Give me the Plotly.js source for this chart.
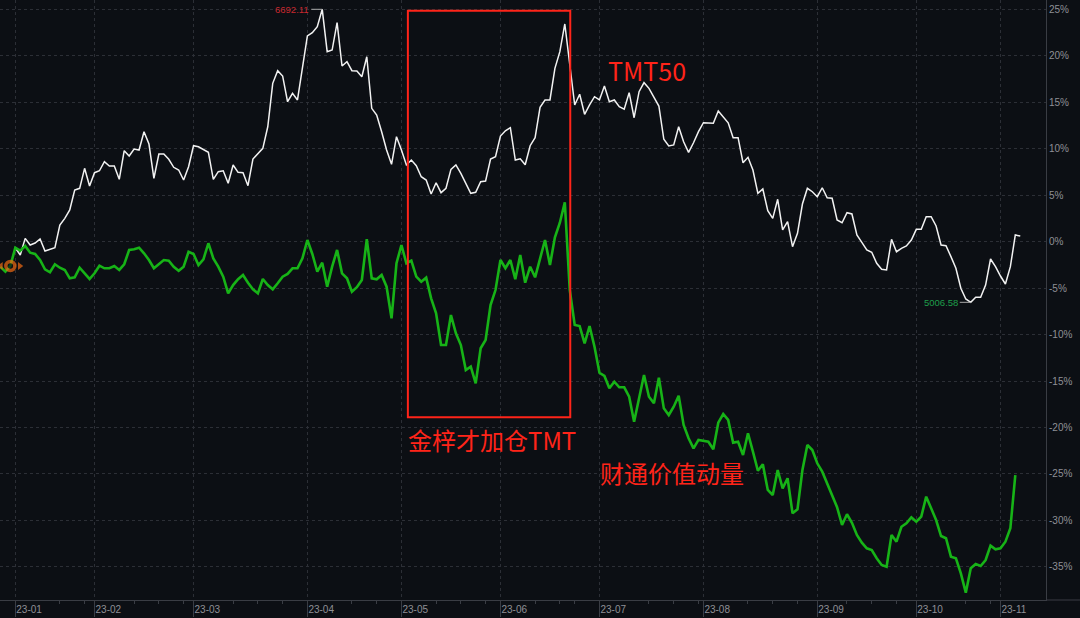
<!DOCTYPE html>
<html><head><meta charset="utf-8">
<script src="https://cdn.plot.ly/plotly-3.0.1.min.js"></script>
<style>html,body{margin:0;padding:0;background:#0c0f14;}#chart{width:1080px;height:618px;}</style>
</head><body><div id="chart"></div>
<script>
// trading-day index: 0 = 2023-01-03
const monthTickIdx = [0,16,36,59,78,98,118,139,162,182,199];
const monthTickLabels = ['23-01','23-02','23-03','23-04','23-05','23-06','23-07','23-08','23-09','23-10','23-11'];
const weekTickIdx = [9,14,24,29,34,44,49,54,68,73,85,90,95,105,110,113,128,133,138,148,153,158,168,173,178,192,197];
const yTickVals = [25,20,15,10,5,0,-5,-10,-15,-20,-25,-30,-35];
const yTickLabels = ['25%','20%','15%','10%','5%','0%','-5%','-10%','-15%','-20%','-25%','-30%','-35%'];

// TMT50 cumulative return (%), starts at index 0
const tmt50Start = 0;
const tmt50 = [-0.67,-1.45,0.34,-0.38,-0.16,0.27,-1.02,-0.84,-0.67,1.77,
2.49,3.39,5.54,5.72,7.87,5.97,7.40,7.61,8.58,8.12,
8.12,6.69,9.76,9.19,9.95,9.84,11.81,10.48,6.80,9.41,
9.41,8.84,7.98,7.69,6.61,8.04,10.30,10.19,9.91,9.59,
6.69,7.51,7.61,6.26,8.23,7.44,7.40,6.00,8.87,9.41,
10.02,12.34,17.01,18.37,17.80,15.03,15.94,15.22,18.44,22.10,
22.45,23.10,24.97,20.41,20.59,23.53,18.87,19.33,18.37,18.33,
17.72,19.87,14.32,13.60,11.81,9.84,8.30,11.27,9.84,8.23,
8.76,8.15,6.97,6.61,5.11,6.32,5.25,5.72,7.76,8.23,
7.33,6.26,5.18,5.29,6.43,6.51,8.87,9.12,11.34,11.91,
12.24,8.76,8.90,8.26,10.30,11.16,14.43,15.22,15.22,18.62,
20.41,23.39,19.33,14.68,15.83,13.68,14.68,15.57,15.22,16.72,
15.03,15.22,14.49,14.22,16.00,13.31,16.11,17.08,16.47,15.57,
14.57,10.99,10.27,10.38,12.34,10.73,9.59,10.62,11.81,12.77,
12.71,12.71,14.03,13.42,12.77,11.16,11.16,8.47,9.05,7.69,
5.18,5.65,3.31,2.49,4.54,1.24,2.13,-0.56,0.88,4.03,
5.72,5.35,4.82,5.78,4.71,4.65,2.31,2.02,3.10,2.96,
0.70,-0.09,-0.91,-1.16,-2.34,-2.99,-3.06,0.24,-1.10,-0.73,
-0.48,0.16,1.31,1.31,2.67,2.67,1.67,-0.38,-0.45,-1.63,
-2.88,-5.03,-6.18,-6.54,-6.00,-6.00,-4.68,-1.88,-2.71,-3.71,
-4.57,-2.71,0.70,0.59];

// 财通价值动量 cumulative return (%), starts at index -3
const valueMomStart = -3;
const valueMom = [-2.74,-3.25,-2.63,
-0.67,-0.99,-0.48,-1.20,-1.34,-1.99,-2.99,-3.31,-2.45,-2.82,
-3.06,-3.96,-3.85,-2.82,-3.42,-4.03,-3.42,-2.60,-2.88,-2.88,
-2.63,-3.06,-2.45,-0.91,-0.84,-0.67,-1.27,-1.99,-2.88,-2.45,
-1.99,-2.06,-2.71,-3.14,-2.71,-1.10,-1.34,-2.53,-1.91,-0.19,
-1.81,-2.71,-3.78,-5.57,-4.68,-4.06,-3.60,-4.43,-5.14,-5.57,
-4.03,-4.68,-5.14,-4.49,-3.78,-3.49,-2.88,-2.88,-1.81,0.16,
-1.34,-3.25,-2.28,-4.86,-2.71,-0.91,-3.42,-3.96,-5.40,-4.92,
-4.14,0.24,-3.96,-4.06,-3.60,-4.86,-8.26,-2.34,-0.38,-2.34,
-2.06,-3.78,-4.32,-3.89,-6.11,-7.72,-11.13,-11.13,-7.90,-9.87,
-11.13,-13.82,-13.46,-15.25,-11.48,-10.59,-6.83,-5.22,-1.99,-2.88,
-1.99,-4.06,-1.45,-4.43,-2.71,-3.85,-1.81,0.16,-2.53,0.45,
2.02,4.22,-5.22,-8.98,-9.09,-10.95,-9.09,-11.31,-14.11,-14.46,
-15.78,-15.08,-15.68,-15.68,-16.69,-19.38,-16.86,-14.35,-16.69,-17.40,
-14.65,-17.94,-18.66,-17.76,-16.58,-19.73,-21.16,-22.24,-21.34,-21.42,
-21.53,-22.34,-19.48,-18.55,-19.19,-21.63,-21.53,-22.96,-20.62,-22.60,
-24.65,-23.96,-26.72,-27.26,-24.57,-26.54,-25.46,-29.23,-28.80,-24.57,
-21.88,-22.42,-23.85,-24.75,-26.00,-27.26,-28.58,-30.48,-29.33,-30.24,
-31.56,-32.39,-32.99,-33.17,-34.06,-34.78,-34.97,-31.56,-32.28,-30.67,
-30.30,-29.66,-30.13,-29.59,-27.44,-28.69,-29.95,-31.67,-31.91,-33.89,
-34.06,-35.68,-37.76,-35.14,-34.68,-34.89,-34.25,-32.71,-33.10,-32.99,
-32.28,-30.84,-25.11];

const peakLabel = '6692.11';
const troughLabel = '5006.58';
const seriesNames = ['TMT50', '财通价值动量'];
const boxNote = '金梓才加仓TMT';

const xT = tmt50.map((_, i) => i + tmt50Start);
const xV = valueMom.map((_, i) => i + valueMomStart);

let pk = 0, tr = 0;
tmt50.forEach((v, i) => { if (v > tmt50[pk]) pk = i; if (v < tmt50[tr]) tr = i; });

const markIdx = 2; // marker on first series point before start
const mx = xV[markIdx], my = valueMom[markIdx];

const axisCol = '#3a3d44', gridCol = '#2c2f36', txtCol = '#8f9096';
const redCol = '#ff2419';
const cjk = '"Noto Sans CJK SC", "Noto Sans", sans-serif';

const traces = [
  {x: xT, y: tmt50, type: 'scatter', mode: 'lines', name: seriesNames[0],
   line: {color: '#f2f2f2', width: 1.5}, hoverinfo: 'skip'},
  {x: xV, y: valueMom, type: 'scatter', mode: 'lines', name: seriesNames[1],
   line: {color: '#17b317', width: 2.6}, hoverinfo: 'skip'},
  {x: [mx - 1.9, mx, mx + 1.9], y: [my, my, my], type: 'scatter', mode: 'markers',
   marker: {symbol: ['triangle-left', 'circle', 'triangle-right'], size: [7, 9, 7],
            color: ['#ee6a12', '#0c0f14', '#ee6a12'],
            line: {color: '#ee6a12', width: [0, 3.5, 0]}}, hoverinfo: 'skip'}
];

const layout = {
  width: 1080, height: 618,
  paper_bgcolor: '#0c0f14', plot_bgcolor: '#0c0f14',
  margin: {l: 0, r: 34, t: 0, b: 18},
  showlegend: false,
  font: {family: '"Liberation Sans", Arial, sans-serif', size: 10, color: txtCol},
  xaxis: {
    range: [-3.09, 208.2], tickmode: 'array', tickvals: monthTickIdx, ticktext: monthTickLabels,
    ticks: 'outside', ticklen: 16, tickcolor: axisCol, tickwidth: 1,
    showline: true, linecolor: axisCol, linewidth: 1,
    showgrid: true, gridcolor: gridCol, griddash: 'dot', gridwidth: 1, zeroline: false,
    tickfont: {size: 10, color: txtCol},
    ticklabelposition: 'outside right', ticklabelstandoff: 0,
    minor: {tickmode: 'array', tickvals: weekTickIdx, ticks: 'outside', ticklen: 3, tickcolor: axisCol, showgrid: false},
    fixedrange: true
  },
  yaxis: {
    side: 'right', range: [-38.55, 25.97], tickmode: 'array', tickvals: yTickVals, ticktext: yTickLabels,
    ticks: '', showline: true, linecolor: axisCol, linewidth: 1,
    showgrid: true, gridcolor: gridCol, griddash: 'dot', gridwidth: 1, zeroline: false,
    tickfont: {size: 10, color: txtCol}, fixedrange: true
  },
  shapes: [
    {type: 'rect', xref: 'x', yref: 'y', x0: 79.3, x1: 112.1, y0: -18.9, y1: 24.82,
     line: {color: redCol, width: 2}, fillcolor: 'rgba(0,0,0,0)'},
    {type: 'line', xref: 'paper', yref: 'paper', x0: 1, x1: 1.0325, y0: 0, y1: 0,
     line: {color: axisCol, width: 1}}
  ],
  annotations: [
    {x: xT[pk], y: tmt50[pk], text: peakLabel, showarrow: true, arrowhead: 0, arrowwidth: 1,
     arrowcolor: '#a9a9a9', ax: -11, ay: 0, xanchor: 'right', yanchor: 'middle',
     font: {size: 9.5, color: '#c8282e'}},
    {x: xT[tr], y: tmt50[tr], text: troughLabel, showarrow: true, arrowhead: 0, arrowwidth: 1,
     arrowcolor: '#a9a9a9', ax: -11, ay: 0, xanchor: 'right', yanchor: 'middle',
     font: {size: 9.5, color: '#1e9e4a'}},
    {x: 127.6, y: 18.44, text: seriesNames[0], showarrow: false, xanchor: 'center', yanchor: 'middle',
     font: {family: cjk, size: 25, color: redCol}},
    {x: 78.9, y: -21.34, text: boxNote, showarrow: false, xanchor: 'left', yanchor: 'middle',
     font: {family: cjk, size: 24, color: redCol}},
    {x: 117.7, y: -24.86, text: seriesNames[1], showarrow: false, xanchor: 'left', yanchor: 'middle',
     font: {family: cjk, size: 24, color: redCol}}
  ]
};

Plotly.newPlot('chart', traces, layout, {displayModeBar: false, staticPlot: true});
</script>
</body></html>
